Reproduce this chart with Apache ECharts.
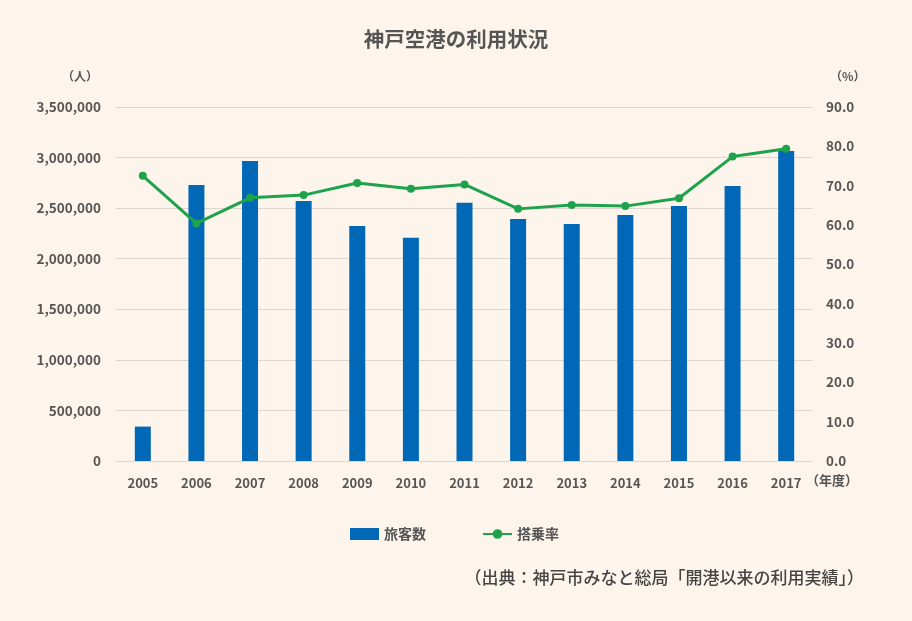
<!DOCTYPE html>
<html><head><meta charset="utf-8">
<script src="https://cdn.jsdelivr.net/npm/echarts@6/dist/echarts.min.js"></script>
<style>html,body{margin:0;padding:0;background:#fdf5eb;}#c{width:912px;height:621px;}</style>
</head><body><div id="c"></div>
<script>
const years = ['2005','2006','2007','2008','2009','2010','2011','2012','2013','2014','2015','2016','2017'];
const passengers = [340000, 2730000, 2966000, 2571000, 2323000, 2208000, 2554000, 2393000, 2343000, 2432000, 2521000, 2719000, 3065000];
const loadFactor = [72.5, 60.4, 66.9, 67.6, 70.7, 69.2, 70.3, 64.1, 65.1, 64.8, 66.8, 77.4, 79.4];
const titleText = '神戸空港の利用状況';
const sourceText = '（出典：神戸市みなと総局「開港以来の利用実績」）';

const FONT = '"Noto Sans CJK JP", "Noto Sans", sans-serif';
const TXT = '#555555';
const chart = echarts.init(document.getElementById('c'));
chart.setOption({
  backgroundColor: '#fdf5eb',
  textStyle: { fontFamily: FONT },
  title: { text: titleText, left: 'center', top: 24, textStyle: { fontFamily: FONT, fontSize: 20.5, fontWeight: 'bold', color: TXT } },
  grid: { left: 116, right: 99, top: 107, bottom: 160, containLabel: false },
  legend: {
    left: 345, top: 522, itemWidth: 29, itemHeight: 12, itemGap: 56,
    textStyle: { fontFamily: FONT, fontSize: 14, fontWeight: 'bold', color: TXT },
    data: [{ name: '旅客数', icon: 'rect' }, { name: '搭乗率' }]
  },
  xAxis: {
    type: 'category', data: years,
    axisLine: { show: false }, axisTick: { show: false },
    axisLabel: { color: TXT, fontFamily: FONT, fontSize: 13, fontWeight: 'bold', margin: 16 }
  },
  yAxis: [{
    type: 'value', min: 0, max: 3500000, interval: 500000,
    axisLabel: { color: TXT, fontFamily: FONT, fontSize: 13.5, fontWeight: 'bold', margin: 15,
      formatter: v => v.toLocaleString('en-US') },
    splitLine: { lineStyle: { color: '#dcd6cf', width: 1 } },
    axisLine: { show: false }, axisTick: { show: false }
  }, {
    type: 'value', min: 0, max: 90, interval: 10,
    axisLabel: { color: TXT, fontFamily: FONT, fontSize: 13.5, fontWeight: 'bold', margin: 13,
      formatter: v => v.toFixed(1) },
    splitLine: { show: false }, axisLine: { show: false }, axisTick: { show: false }
  }],
  graphic: [
    { type: 'text', left: 62, top: 70, style: { text: '（人）', font: 'bold 12px ' + FONT, fill: TXT } },
    { type: 'text', left: 830, top: 70, style: { text: '（%）', font: 'bold 12px ' + FONT, fill: TXT } },
    { type: 'text', left: 806, top: 474, style: { text: '（年度）', font: 'bold 13px ' + FONT, fill: TXT } },
    { type: 'text', right: 48, top: 569, style: { text: sourceText, font: '500 17px ' + FONT, fill: '#444' } }
  ],
  series: [{
    name: '旅客数', type: 'bar', data: passengers, barWidth: 16,
    itemStyle: { color: '#0068b7' }
  }, {
    name: '搭乗率', type: 'line', yAxisIndex: 1, data: loadFactor,
    symbol: 'circle', symbolSize: 8,
    lineStyle: { color: '#1ea34c', width: 3 }, itemStyle: { color: '#1ea34c' }
  }]
});
</script></body></html>
